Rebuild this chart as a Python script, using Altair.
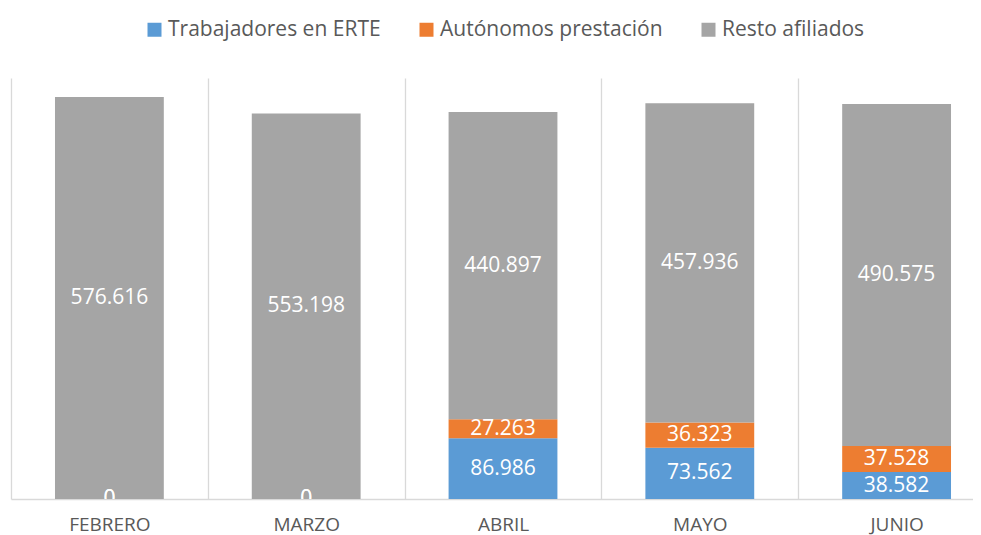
import altair as alt
import pandas as pd

meses = ["FEBRERO", "MARZO", "ABRIL", "MAYO", "JUNIO"]
series = ["Trabajadores en ERTE", "Autónomos prestación", "Resto afiliados"]
erte = [0, 0, 86986, 73562, 38582]
autonomos = [0, 0, 27263, 36323, 37528]
resto = [576616, 553198, 440897, 457936, 490575]
colores = ["#5B9BD5", "#ED7D31", "#A5A5A5"]

rows = []
for i, m in enumerate(meses):
    for j, (s, vals) in enumerate(zip(series, [erte, autonomos, resto])):
        rows.append({"mes": m, "serie": s, "valor": vals[i], "orden": j})
df = pd.DataFrame(rows)

FONT = "Open Sans"

base = alt.Chart(df).transform_stack(
    stack="valor", groupby=["mes"], sort=[alt.SortField("orden")], as_=["y0", "y1"]
).transform_calculate(
    mid="(datum.y0 + datum.y1) / 2",
    etiqueta="replace(format(datum.valor, ','), /,/g, '.')",
)

x_scale = alt.Scale(paddingInner=0, paddingOuter=0, rangeMin=0, rangeMax=984)

x_enc = alt.X(
    "mes:N",
    sort=meses,
    title=None,
    scale=x_scale,
    axis=alt.Axis(
        tickBand="extent",
        grid=True,
        gridColor="#D9D9D9",
        gridWidth=1.3,
        domainColor="#D9D9D9",
        domainWidth=1.3,
        ticks=False,
        labelAngle=0,
        labelFont=FONT,
        labelFontSize=19,
        labelColor="#595959",
        labelBaseline="alphabetic",
        labelPadding=31,
    ),
)
y_scale = alt.Scale(domain=[0, 604000])

bars = base.mark_bar(width=alt.RelativeBandSize(0.553)).encode(
    x=x_enc,
    y=alt.Y("y0:Q", scale=y_scale, axis=None),
    y2="y1:Q",
    color=alt.Color(
        "serie:N",
        scale=alt.Scale(domain=series, range=colores),
        legend=alt.Legend(
            title=None,
            orient="none",
            direction="horizontal",
            legendX=133,
            legendY=-59,
            symbolType="square",
            symbolSize=196,
            symbolStrokeWidth=0,
            labelFont=FONT,
            labelFontSize=21,
            labelColor="#595959",
            labelOffset=3,
            labelLimit=0,
            columnPadding=35,
        ),
    ),
)

texts = base.mark_text(
    color="white", font=FONT, fontSize=21, baseline="middle", align="center", clip=True
).encode(
    x=alt.X("mes:N", sort=meses, scale=x_scale),
    y=alt.Y("mid:Q", scale=y_scale),
    text="etiqueta:N",
)

chart = alt.layer(bars, texts).properties(
    width=962,
    height=421,
    padding={"left": 3, "top": 70, "right": 0, "bottom": 36},
    autosize=alt.AutoSizeParams(type="none"),
).configure_view(stroke=None)

chart.save("out.html", embed_options={"renderer": "svg", "actions": False})
